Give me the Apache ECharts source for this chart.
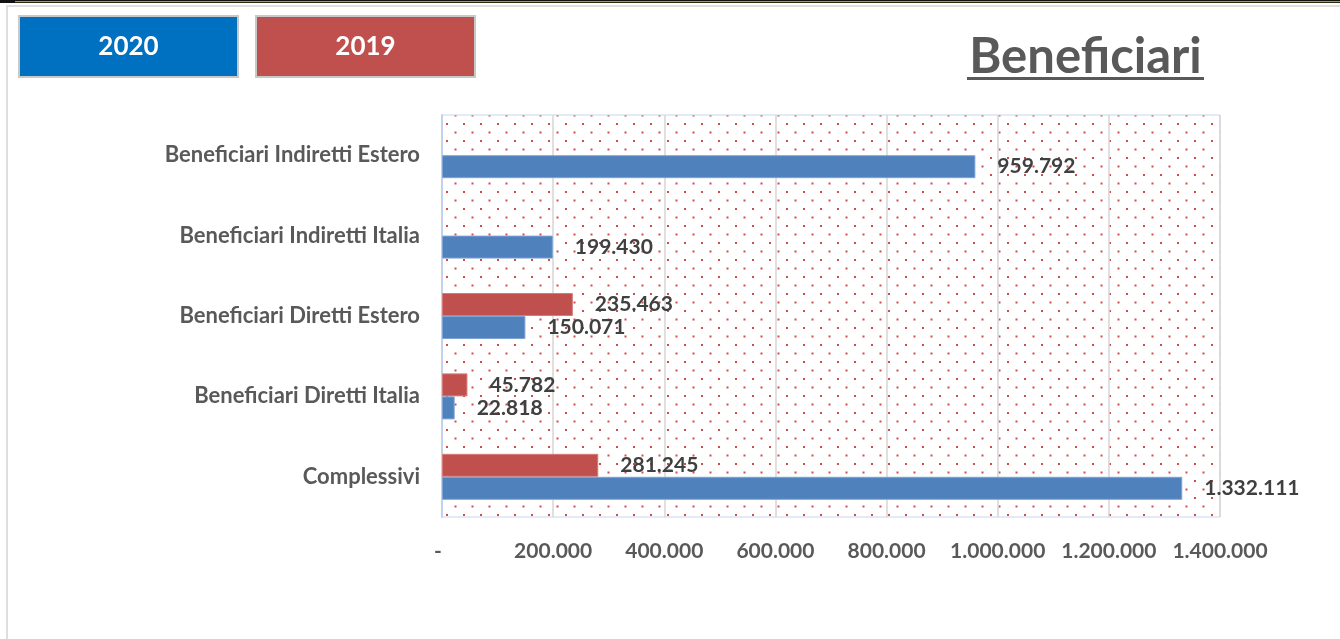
<!DOCTYPE html>
<html>
<head>
<meta charset="utf-8">
<script src="https://cdn.jsdelivr.net/npm/echarts@6/dist/echarts.min.js"></script>
<style>
  html, body { margin: 0; padding: 0; background: #ffffff; }
  #chart { width: 1340px; height: 639px; }
</style>
</head>
<body>
<div id="chart"></div>
<script>
// Categories, bottom to top
const categories = [
  'Complessivi',
  'Beneficiari Diretti Italia',
  'Beneficiari Diretti Estero',
  'Beneficiari Indiretti Italia',
  'Beneficiari Indiretti Estero'
];
const years = ['2020', '2019'];
const values2020 = [1332111, 22818, 150071, 199430, 959792];
const values2019 = [281245, 45782, 235463, null, null];
const xTicks = { min: 0, max: 1400000, step: 200000 };
const chartTitle = 'Beneficiari';

const FONT = 'Lato, "Open Sans", sans-serif';

// Italian-style thousands separator, zero shown as a dash
function fmt(v) {
  if (v === 0) return '-';
  return String(Math.round(v)).replace(/\B(?=(\d{3})+(?!\d))/g, '.');
}

// Dotted fill for the plot area
function dotPattern() {
  const c = document.createElement('canvas');
  c.width = 17; c.height = 17;
  const g = c.getContext('2d');
  g.fillStyle = '#ffffff';
  g.fillRect(0, 0, 17, 17);
  g.fillStyle = '#d44a4a';
  g.fillRect(4, 4, 2, 2);
  g.fillRect(12.5, 12.5, 2, 2);
  return { image: c, repeat: 'repeat' };
}

const chart = echarts.init(document.getElementById('chart'), null, { renderer: 'canvas' });

const labelStyle = {
  show: true, position: 'right', distance: 22,
  color: '#404040', fontFamily: FONT, fontWeight: 'bold', fontSize: 21,
  formatter: p => fmt(p.value)
};

const option = {
  animation: false,
  backgroundColor: '#ffffff',
  grid: {
    left: 442, right: 120, top: 115, bottom: 122,
    show: true,
    backgroundColor: dotPattern(),
    borderColor: '#c9d6ec',
    borderWidth: 1
  },
  xAxis: {
    type: 'value',
    min: xTicks.min, max: xTicks.max, interval: xTicks.step,
    axisLine: { show: false },
    axisTick: { show: false },
    splitLine: { show: true, lineStyle: { color: '#d6d6d6', width: 1.5 } },
    axisLabel: {
      margin: 24,
      color: '#595959',
      fontFamily: FONT, fontWeight: 'bold', fontSize: 21,
      formatter: v => v === 0 ? '{dash|-}' : fmt(v),
      rich: { dash: { padding: [0, 8, 0, 0], color: '#595959',
        fontFamily: FONT, fontWeight: 'bold', fontSize: 21 } }
    }
  },
  yAxis: {
    type: 'category',
    data: categories,
    axisLine: { show: true, lineStyle: { color: '#c3d2ec', width: 2 } },
    axisTick: { show: false },
    splitLine: { show: false },
    axisLabel: {
      margin: 22,
      color: '#595959',
      fontFamily: FONT, fontWeight: 'bold', fontSize: 22
    }
  },
  series: [
    {
      name: years[1], type: 'bar', data: values2019,
      barWidth: 23, barGap: '0%',
      itemStyle: { color: '#c0504d', borderColor: '#d77b78', borderWidth: 1 },
      label: labelStyle
    },
    {
      name: years[0], type: 'bar', data: values2020,
      barWidth: 23, barGap: '0%',
      itemStyle: { color: '#4f81bd', borderColor: '#7ea3d4', borderWidth: 1 },
      label: labelStyle
    }
  ],
  graphic: [
    // frame strip along the top and left edge
    { type: 'rect', shape: { x: 0, y: 0, width: 1340, height: 1 }, style: { fill: '#111111' }, silent: true },
    { type: 'rect', shape: { x: 0, y: 1, width: 15, height: 2 }, style: { fill: '#111111' }, silent: true },
    { type: 'rect', shape: { x: 15, y: 1, width: 1325, height: 1 }, style: { fill: '#a9a800' }, silent: true },
    { type: 'rect', shape: { x: 15, y: 2, width: 1325, height: 1 }, style: { fill: '#2a2a08' }, silent: true },
    { type: 'rect', shape: { x: 6, y: 5, width: 1334, height: 2 }, style: { fill: '#dedede' }, silent: true },
    { type: 'rect', shape: { x: 6, y: 5, width: 2, height: 634 }, style: { fill: '#dedede' }, silent: true },
    // year boxes
    { type: 'rect', shape: { x: 19, y: 16, width: 219, height: 61 },
      style: { fill: '#0070c0', stroke: '#c8c8c8', lineWidth: 2 }, silent: true },
    { type: 'text', style: { x: 128.5, y: 47, text: years[0], fill: '#ffffff',
      font: 'bold 26px ' + FONT, textAlign: 'center', textVerticalAlign: 'middle' }, silent: true },
    { type: 'rect', shape: { x: 256, y: 16, width: 219, height: 61 },
      style: { fill: '#c0504d', stroke: '#c8c8c8', lineWidth: 2 }, silent: true },
    { type: 'text', style: { x: 365.5, y: 47, text: years[1], fill: '#ffffff',
      font: 'bold 26px ' + FONT, textAlign: 'center', textVerticalAlign: 'middle' }, silent: true },
    // underlined heading
    { type: 'text', style: { x: 1085.5, y: 57, text: chartTitle, fill: '#595959',
      font: 'bold 49px ' + FONT, textAlign: 'center', textVerticalAlign: 'middle' }, silent: true },
    { type: 'rect', shape: { x: 967, y: 77, width: 237, height: 3 }, style: { fill: '#595959' }, silent: true }
  ]
};

chart.setOption(option);
</script>
</body>
</html>
